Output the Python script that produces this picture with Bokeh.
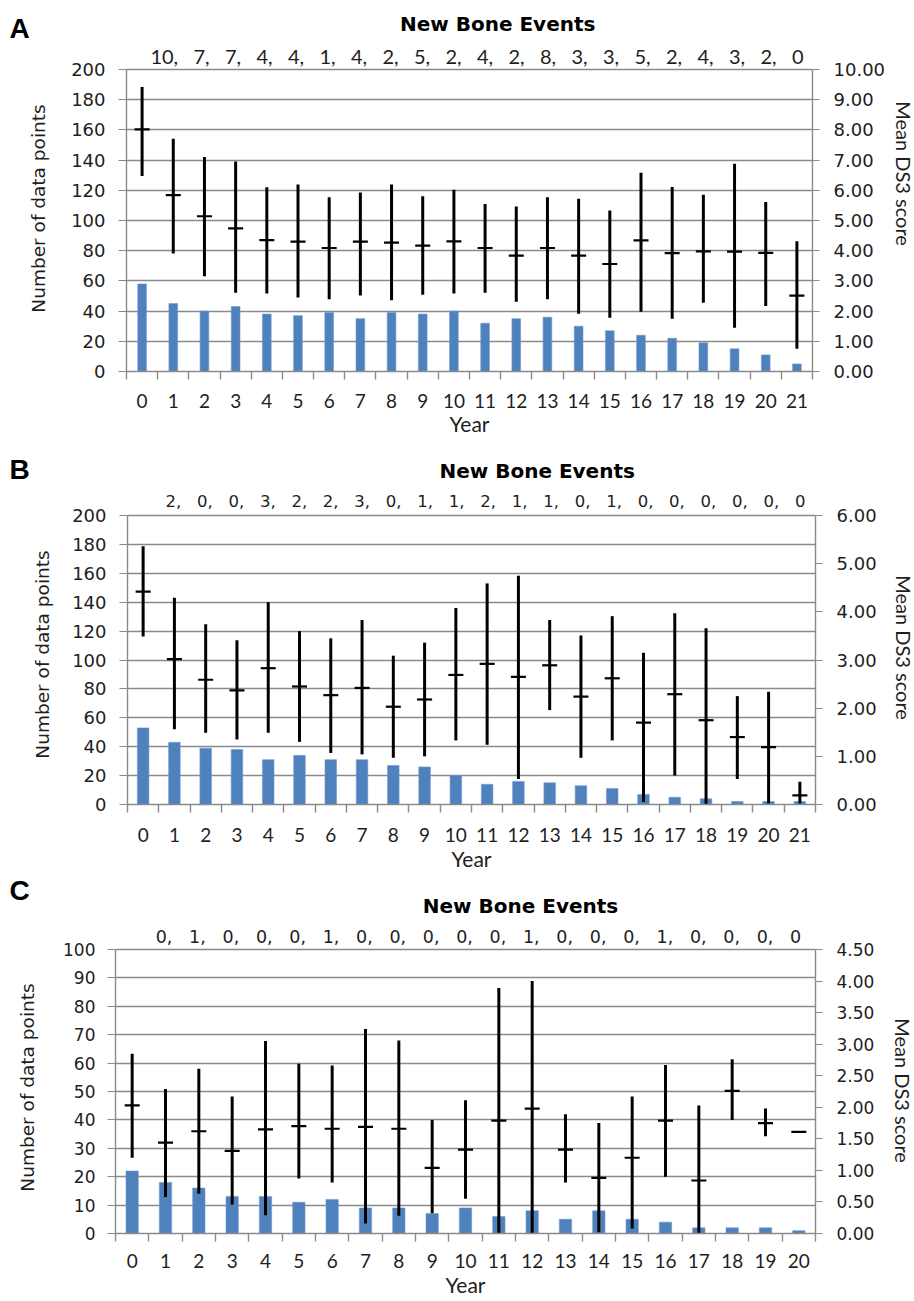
import math
from bokeh.plotting import figure
from bokeh.layouts import column, row
from bokeh.models import (Range1d, LinearAxis, FixedTicker, NumeralTickFormatter)
from bokeh.core.properties import value
from bokeh.embed import file_html
from bokeh.resources import INLINE

# ---------------- data ----------------
years_A = list(range(22))
count_A = [58, 45, 40, 43, 38, 37, 39, 35, 39, 38, 40, 32, 35, 36, 30, 27, 24, 22, 19, 15, 11, 5]
mean_A = [8.02, 5.84, 5.14, 4.74, 4.35, 4.30, 4.09, 4.30, 4.27, 4.17, 4.31, 4.09, 3.84, 4.09, 3.84, 3.56, 4.34, 3.92, 3.98, 3.97, 3.93, 2.51]
low_A = [6.47, 3.91, 3.15, 2.61, 2.58, 2.45, 2.39, 2.52, 2.36, 2.54, 2.58, 2.61, 2.31, 2.39, 1.91, 1.78, 1.98, 1.75, 2.28, 1.45, 2.17, 0.75]
high_A = [9.42, 7.71, 7.10, 6.95, 6.10, 6.19, 5.77, 5.93, 6.19, 5.80, 6.02, 5.55, 5.46, 5.77, 5.72, 5.33, 6.58, 6.11, 5.85, 6.88, 5.61, 4.31]
events_A = [10, 7, 7, 4, 4, 1, 4, 2, 5, 2, 4, 2, 8, 3, 3, 5, 2, 4, 3, 2, 0]

years_B = list(range(22))
count_B = [53, 43, 39, 38, 31, 34, 31, 31, 27, 26, 20, 14, 16, 15, 13, 11, 7, 5, 4, 2, 2, 2]
mean_B = [4.42, 3.02, 2.59, 2.37, 2.83, 2.45, 2.27, 2.42, 2.03, 2.18, 2.69, 2.92, 2.65, 2.89, 2.24, 2.62, 1.70, 2.29, 1.75, 1.40, 1.19, 0.19]
low_B = [3.49, 1.56, 1.49, 1.35, 1.49, 1.30, 1.07, 1.04, 0.97, 1.00, 1.33, 1.24, 0.53, 1.96, 0.97, 1.33, 0.05, 0.60, 0.00, 0.53, 0.02, 0.02]
high_B = [5.36, 4.29, 3.74, 3.41, 4.20, 3.60, 3.45, 3.83, 3.09, 3.36, 4.08, 4.59, 4.75, 3.83, 3.51, 3.91, 3.15, 3.97, 3.66, 2.25, 2.34, 0.47]
events_B = [2, 0, 0, 3, 2, 2, 3, 0, 1, 1, 2, 1, 1, 0, 1, 0, 0, 0, 0, 0, 0]

years_C = list(range(21))
count_C = [22, 18, 16, 13, 13, 11, 12, 9, 9, 7, 9, 6, 8, 5, 8, 5, 4, 2, 2, 2, 1]
mean_C = [2.03, 1.44, 1.62, 1.31, 1.65, 1.70, 1.66, 1.69, 1.66, 1.04, 1.33, 1.79, 1.98, 1.33, 0.88, 1.20, 1.79, 0.84, 2.26, 1.75, 1.61]
low_C = [1.20, 0.58, 0.63, 0.46, 0.29, 0.87, 0.81, 0.16, 0.28, 0.32, 0.55, 0.00, 0.00, 0.81, 0.02, 0.08, 0.90, 0.00, 1.80, 1.54, 1.61]
high_C = [2.85, 2.29, 2.61, 2.17, 3.05, 2.69, 2.66, 3.24, 3.06, 1.80, 2.11, 3.89, 4.00, 1.89, 1.75, 2.17, 2.67, 2.03, 2.76, 1.98, 1.61]
events_C = [0, 1, 0, 0, 0, 1, 0, 0, 0, 0, 0, 1, 0, 0, 0, 1, 0, 0, 0, 0]

# ---------------- style ----------------
GRID = "#8a8a8a"
TEXT = "#1e1e1e"
BAR = "#4F81BD"
VERD = "DejaVu Sans"
CALI = "Lato"
NB = "\u00a0"

# page-x columns of the layout (the page is drawn from its top-left corner)
X0, XL, XR, X1 = 0, 60, 888, 914


def text_fig(x0, x1, y0, y1):
    """A bare figure whose data coordinates are page pixels (y downwards)."""
    f = figure(width=x1 - x0, height=y1 - y0, output_backend="svg", toolbar_location=None,
               x_range=Range1d(x0, x1), y_range=Range1d(y1, y0),
               x_axis_location=None, y_axis_location=None, min_border=0)
    f.outline_line_color = None
    f.grid.visible = False
    f.background_fill_color = "white"
    f.border_fill_color = "white"
    return f


def put(f, txt, pos, font, size, bold=False, angle=0.0, color=TEXT):
    f.text(x=[pos[0]], y=[pos[1]], text=[txt], angle=angle,
           text_align="center", text_baseline="middle",
           text_font=value(font), text_font_size=value(size),
           text_font_style="bold" if bold else "normal", text_color=color)


def make_panel(letter, years, counts, mean, low, high, events, cfg):
    fl, fr, ft, fb = cfg["frame"]          # plot-area edges in page coords
    top, H = cfg["top"], cfg["height"]
    head_bot = cfg["head_bot"]
    frame_top = head_bot + 2               # frame reaches up to hold the events row
    n = len(years)
    ymax, rmax = cfg["ymax"], cfg["rmax"]
    k = ymax / (fb - ft)                   # data units per pixel
    ytop = ymax + (ft - frame_top) * k

    # left strip: panel letter + left axis title
    lf = text_fig(X0, XL, top, top + H)
    put(lf, letter, cfg["letter"], "Liberation Sans", "28px", bold=True, color="black")
    put(lf, "Number of data points", cfg["ltitle"], VERD, "18.5px", angle=math.pi / 2)

    # right strip: right axis title
    rf = text_fig(XR, X1, top, top + H)
    put(rf, "Mean DS3 score", cfg["rtitle"], CALI, "20px", angle=-math.pi / 2)

    # header: title
    hf = text_fig(XL, XR, top, head_bot)
    put(hf, "New Bone Events", cfg["title"], VERD, "20px", bold=True, color="black")

    # main chart
    p = figure(width=XR - XL, height=top + H - head_bot, output_backend="svg", toolbar_location=None,
               x_range=Range1d(-0.5, n - 0.5), y_range=Range1d(0, ytop),
               min_border_left=fl - XL, min_border_right=XR - fr,
               min_border_top=frame_top - head_bot, min_border_bottom=top + H - fb)
    p.outline_line_color = None
    p.background_fill_color = "white"
    p.border_fill_color = "white"
    p.extra_y_ranges = {"ds3": Range1d(0, rmax * ytop / ymax)}

    yticks = [i * cfg["yint"] for i in range(int(round(ymax / cfg["yint"])) + 1)]
    rticks = [round(i * cfg["rint"], 2) for i in range(int(round(rmax / cfg["rint"])) + 1)]

    p.xgrid.visible = False
    p.ygrid.ticker = FixedTicker(ticks=yticks)
    p.ygrid.grid_line_color = GRID
    p.ygrid.grid_line_width = 1.4

    ya = p.yaxis[0]
    ya.ticker = FixedTicker(ticks=yticks)
    ya.bounds = (0, ymax)
    ya.axis_line_color = GRID
    ya.axis_line_width = 1.4
    ya.major_tick_line_color = GRID
    ya.major_tick_out = 8
    ya.major_tick_in = 0
    ya.minor_tick_line_color = None
    ya.major_label_standoff = cfg["ylab_standoff"]
    ya.major_label_text_font = VERD
    ya.major_label_text_font_size = cfg["tick_size"]
    ya.major_label_text_color = TEXT

    ra = LinearAxis(y_range_name="ds3", ticker=FixedTicker(ticks=rticks),
                    formatter=NumeralTickFormatter(format="0.00"), bounds=(0, rmax))
    ra.axis_line_color = GRID
    ra.axis_line_width = 1.4
    ra.major_tick_line_color = GRID
    ra.major_tick_out = 7
    ra.major_tick_in = 0
    ra.minor_tick_line_color = None
    ra.major_label_standoff = 14
    ra.major_label_text_font = VERD
    ra.major_label_text_font_size = cfg["tick_size"]
    ra.major_label_text_color = TEXT
    p.add_layout(ra, "right")

    xa = p.xaxis[0]
    xa.ticker = FixedTicker(ticks=years, minor_ticks=[y - 0.5 for y in years] + [years[-1] + 0.5])
    xa.axis_line_color = GRID
    xa.axis_line_width = 1.4
    xa.major_tick_out = 0
    xa.major_tick_in = 0
    xa.major_tick_line_color = None
    xa.minor_tick_line_color = GRID
    xa.minor_tick_line_width = 1.4
    xa.minor_tick_out = 8
    xa.minor_tick_in = 0
    xa.major_label_standoff = cfg["xlab_standoff"]
    xa.major_label_text_font = CALI
    xa.major_label_text_font_size = "19px"
    xa.major_label_text_color = TEXT
    xa.axis_label = "Year"
    xa.axis_label_text_font = CALI
    xa.axis_label_text_font_size = "21px"
    xa.axis_label_text_font_style = "normal"
    xa.axis_label_text_color = TEXT
    xa.axis_label_standoff = cfg["year_standoff"]

    p.vbar(x=years, top=counts, width=cfg["bar_w"], fill_color=BAR, line_color="#6f9bd0", line_width=0.6)
    p.segment(x0=years, y0=low, x1=years, y1=high, y_range_name="ds3",
              line_color="black", line_width=3)
    p.scatter(x=years, y=mean, marker="dash", size=15, line_width=2.2,
              line_color="black", y_range_name="ds3")

    # new-bone-events row, inside the (extended) frame above the plot area
    ex, ey = cfg["events"]
    ev_text = ("," + NB * cfg["ev_sp"]).join(str(e) for e in events)
    p.text(x=[-0.5 + (ex - fl) * n / (fr - fl)], y=[ymax + (ft - ey) * k], text=[ev_text],
           text_align="center", text_baseline="middle",
           text_font=value(cfg["ev_font"]), text_font_size=value(cfg["ev_size"]),
           text_color=TEXT)

    return row(lf, column(hf, p, spacing=0), rf, spacing=0)


cfgA = dict(top=0, height=439, head_bot=36, frame=(126, 813, 69, 371), ymax=200, yint=20, rmax=10, rint=1,
            bar_w=0.28, tick_size="18px", xlab_standoff=14, ylab_standoff=13, year_standoff=0,
            letter=(19, 28), title=(508, 23), events=(477, 55), ev_font=CALI, ev_size="20px", ev_sp=3,
            ltitle=(38, 208), rtitle=(903, 173))
cfgB = dict(top=439, height=434, head_bot=484, frame=(127, 815, 515, 804), ymax=200, yint=20, rmax=6, rint=1,
            bar_w=0.37, tick_size="18px", xlab_standoff=15, ylab_standoff=13, year_standoff=1,
            letter=(19, 469), title=(553, 470), events=(485, 501), ev_font=VERD, ev_size="16.5px", ev_sp=3,
            ltitle=(42, 654), rtitle=(903, 647))
cfgC = dict(top=873, height=427, head_bot=918, frame=(113, 815, 949, 1233), ymax=100, yint=10, rmax=4.5, rint=0.5,
            bar_w=0.37, tick_size="17px", xlab_standoff=12, ylab_standoff=12, year_standoff=1,
            letter=(19, 890), title=(539, 905), events=(477, 936), ev_font=VERD, ev_size="17.5px", ev_sp=3,
            ltitle=(27, 1087), rtitle=(902, 1090))

panelA = make_panel("A", years_A, count_A, mean_A, low_A, high_A, events_A, cfgA)
panelB = make_panel("B", years_B, count_B, mean_B, low_B, high_B, events_B, cfgB)
panelC = make_panel("C", years_C, count_C, mean_C, low_C, high_C, events_C, cfgC)

layout = column(panelA, panelB, panelC, spacing=0)
open("out.html", "w").write(file_html(layout, INLINE))
